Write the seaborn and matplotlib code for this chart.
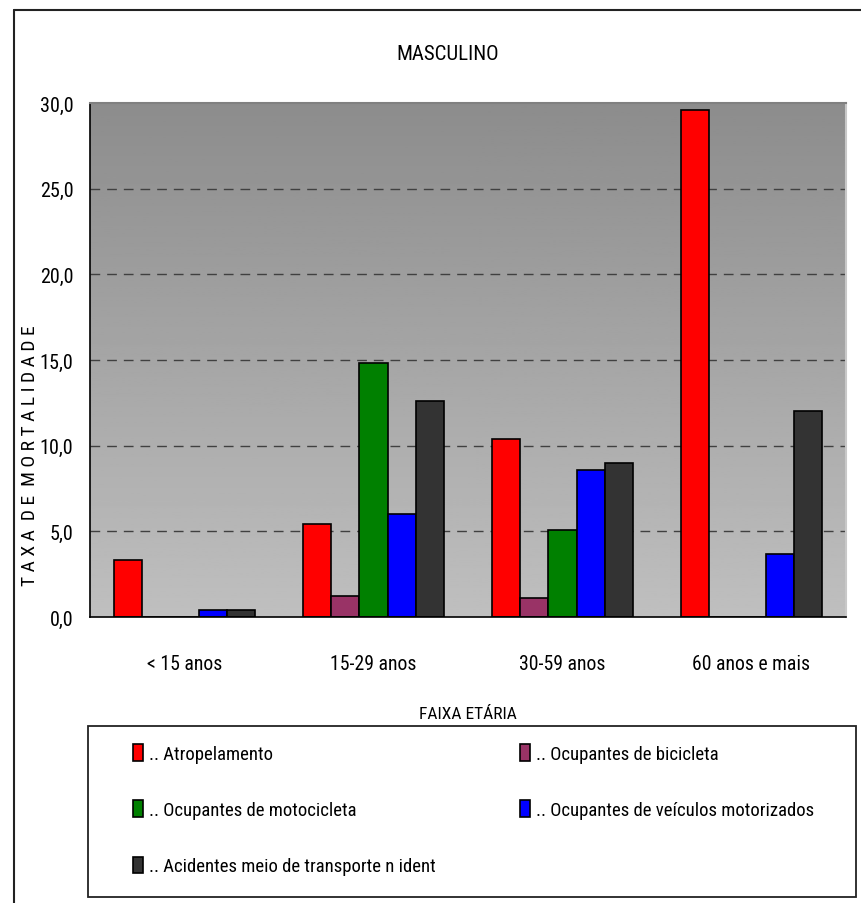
import numpy as np
import pandas as pd
import seaborn as sns
import matplotlib.pyplot as plt
from matplotlib.lines import Line2D
from matplotlib.patches import Rectangle

# data
faixas = ['< 15 anos', '15-29 anos', '30-59 anos', '60 anos e mais']
causas = ['Atropelamento', 'Ocupantes de bicicleta', 'Ocupantes de motocicleta',
          'Ocupantes de veículos motorizados', 'Acidentes meio de transporte n ident']
atropelamento = [3.3, 5.4, 10.4, 29.6]
bicicleta = [0.0, 1.2, 1.1, 0.0]
motocicleta = [0.0, 14.8, 5.1, 0.0]
veiculos = [0.4, 6.0, 8.6, 3.7]
n_ident = [0.4, 12.6, 9.0, 12.0]
cores = ['#FF0000', '#993366', '#008000', '#0000FF', '#333333']

series = [atropelamento, bicicleta, motocicleta, veiculos, n_ident]
rows = []
for causa, vals in zip(causas, series):
    for f, v in zip(faixas, vals):
        rows.append({'faixa': f, 'causa': causa, 'taxa': v})
df = pd.DataFrame(rows)

sns.set_style('white')
plt.rcParams['font.family'] = ['Roboto Condensed', 'DejaVu Sans']
plt.rcParams['text.color'] = 'black'
plt.rcParams['xtick.color'] = 'black'
plt.rcParams['ytick.color'] = 'black'

W, H = 861, 904
fig = plt.figure(figsize=(W / 100, H / 100), dpi=100)
ax = fig.add_axes([90 / W, 1 - 618 / H, (846 - 90) / W, (618 - 104) / H])

# gradient background of the plot area
grad = np.linspace(0.75, 0.55, 256).reshape(-1, 1)
ax.imshow(grad, extent=[-0.5, 3.5, 0, 30], aspect='auto', cmap='gray',
          vmin=0, vmax=1, origin='lower', zorder=0)

sns.barplot(data=df, x='faixa', y='taxa', hue='causa', order=faixas,
            hue_order=causas, palette=cores, edgecolor='black', linewidth=1.2,
            width=0.75, saturation=1, ax=ax, zorder=2)

handles, labels = ax.get_legend_handles_labels()
if ax.get_legend() is not None:
    ax.get_legend().remove()

ax.set_xlim(-0.5, 3.5)
ax.set_ylim(0, 30)
ax.set_yticks(np.arange(0, 31, 5))
ax.set_yticklabels([f'{v:.1f}'.replace('.', ',') for v in np.arange(0, 31, 5)],
                   fontsize=14.5)
ax.set_xticks(range(4))
ax.set_xticklabels(faixas, fontsize=14.2)
ax.set_xticks(np.arange(-0.5, 4, 1), minor=True)
ax.tick_params(axis='x', which='major', length=0, pad=27)
ax.tick_params(axis='x', which='minor', length=10, width=1, color='black',
               direction='out')
ax.tick_params(axis='y', length=5, width=1, color='black', direction='out', pad=7)

for y in range(5, 30, 5):
    ax.axhline(y, color='#404040', lw=1, ls=(0, (7, 5)), zorder=1)

for s in ['left', 'bottom']:
    ax.spines[s].set_color('black')
    ax.spines[s].set_linewidth(1.2)
ax.spines['top'].set_color('#808080')
ax.spines['top'].set_linewidth(1.5)
ax.spines['right'].set_color('#c8c8c8')
ax.spines['right'].set_linewidth(1.5)

ax.set_xlabel('')
ax.set_ylabel('')
ax.set_title('')
fig.text(448 / W, 1 - 55 / H, 'MASCULINO', ha='center', va='center', fontsize=15)
fig.text(468 / W, 1 - 715 / H, 'FAIXA ETÁRIA', ha='center', va='center', fontsize=12.5)
fig.text(30 / W, 1 - 456 / H, 'T A X A  D E  M O R T A L I D A D E',
         rotation=90, ha='center', va='center', fontsize=14)

# outer frame (left and top only)
fig.add_artist(Line2D([14 / W, 14 / W], [0, 1 - 11 / H], transform=fig.transFigure,
                      color='#222222', lw=1.5))
fig.add_artist(Line2D([14 / W, 1], [1 - 11 / H, 1 - 11 / H], transform=fig.transFigure,
                      color='#222222', lw=1.5))

# legend box
fig.add_artist(Rectangle((88 / W, 1 - 898 / H), (856 - 88) / W, (898 - 727) / H,
                         transform=fig.transFigure, fill=False,
                         edgecolor='#222222', lw=1.3))
order = [0, 2, 4, 1, 3]
leg = fig.legend([handles[i] for i in order], ['.. ' + labels[i] for i in order],
                 ncol=2, loc='upper left', bbox_to_anchor=(133 / W, 1 - 745 / H),
                 frameon=False, fontsize=13.5, borderpad=0, borderaxespad=0,
                 handlelength=0.55, handleheight=1.0, handletextpad=0.3,
                 labelspacing=2.0, columnspacing=4.5)

fig.savefig('out.png', dpi=100)
